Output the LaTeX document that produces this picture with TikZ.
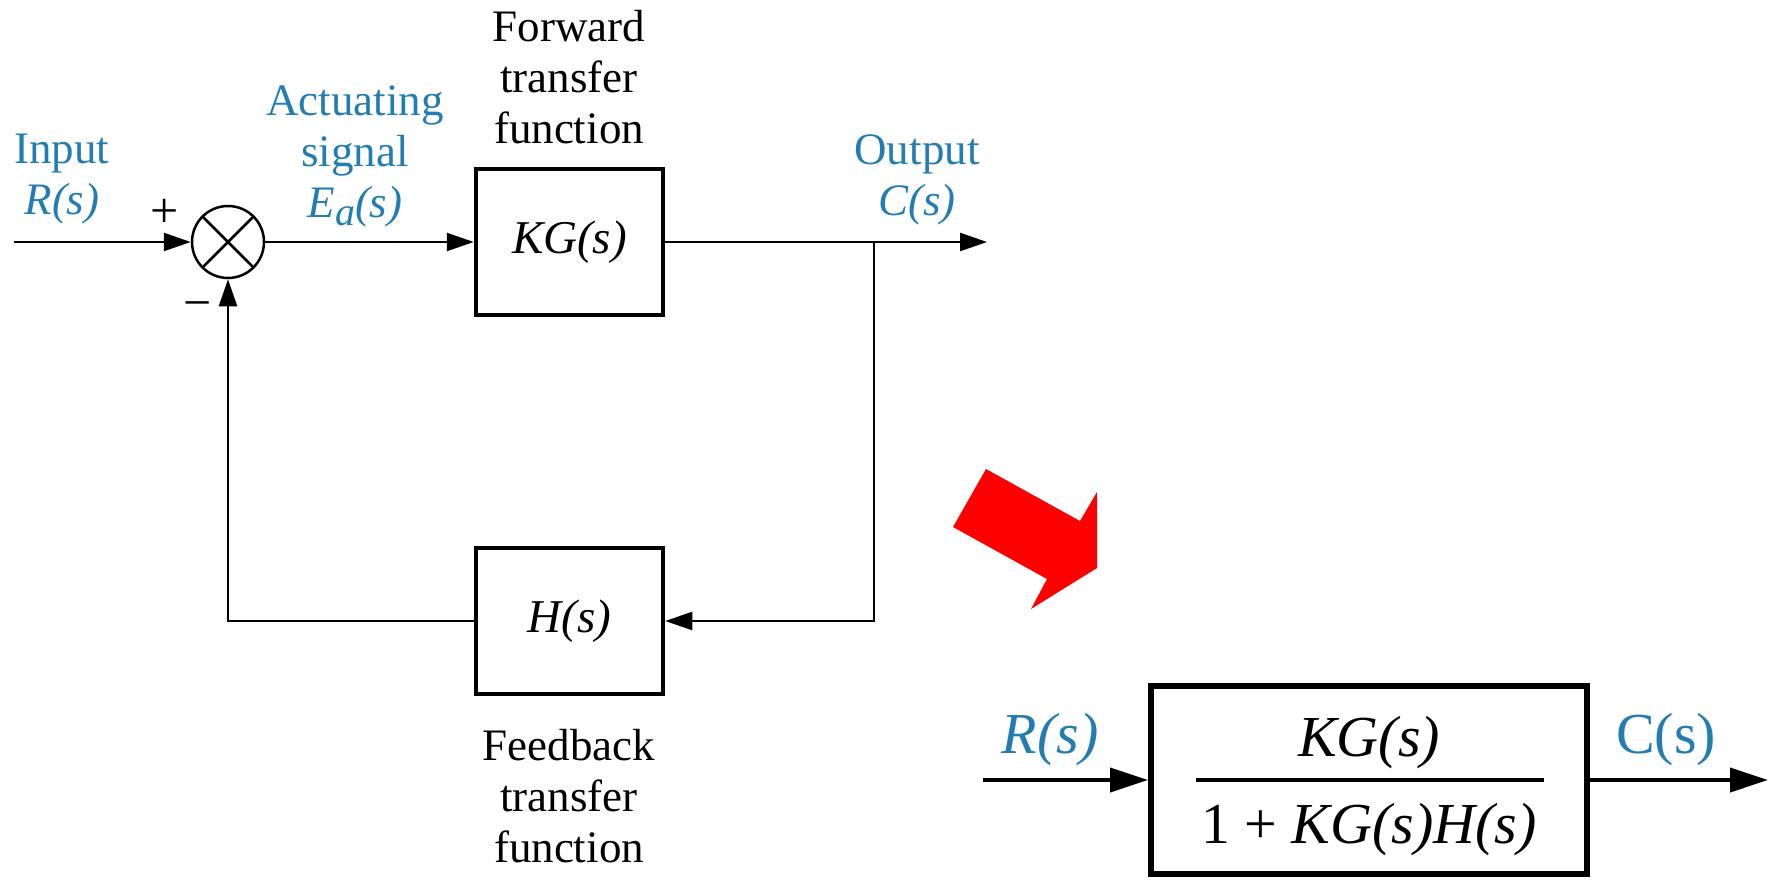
\documentclass[tikz,border=0pt]{standalone}
\usepackage{fontspec}
\setmainfont{Liberation Serif}
\usetikzlibrary{arrows.meta}
\definecolor{lblblue}{RGB}{35,125,178}
\definecolor{arrred}{RGB}{255,0,0}
\begin{document}
\begin{tikzpicture}[x=1pt,y=-1pt,
  conn/.style={line width=2.5pt,-{Triangle[length=27pt,width=18pt]}},
  plainline/.style={line width=2.5pt},
  blockbox/.style={draw,line width=4.5pt,minimum width=187pt,minimum height=146pt,inner sep=0pt,
    font=\fontsize{47}{51}\selectfont\itshape},
  lbl/.style={inner sep=0pt,align=center,font=\fontsize{45}{51}\selectfont},
  signlbl/.style={inner sep=0pt,font=\fontsize{50}{50}\selectfont},
  bluelbl/.style={lbl,text=lblblue},
  sumnode/.style={draw,circle,line width=2.5pt,minimum size=72pt,inner sep=0pt},
  bigconn/.style={line width=4pt,-{Triangle[length=38pt,width=24pt]}},
  bigbox/.style={draw,line width=6pt,minimum width=436pt,minimum height=188pt,inner sep=0pt},
  biglbl/.style={inner sep=0pt,font=\fontsize{58}{64}\selectfont}
]
\useasboundingbox (0,0) rectangle (1775,880);

% ---------- top diagram ----------
\coordinate (inR) at (14,242);
\node[sumnode] (sum) at (228,242) {};
\draw[line width=2.5pt] (sum.north west) -- (sum.south east);
\draw[line width=2.5pt] (sum.north east) -- (sum.south west);
\node[blockbox] (kg) at (569.5,242) {KG(s)};
\node[blockbox] (h) at (569.5,621) {H(s)};
\coordinate (br) at (874,242);
\coordinate (out) at (987,242);

\draw[conn] (inR) -- (sum.west);
\draw[conn] (sum.east) -- (kg.west);
\draw[plainline] (kg.east) -- (br);
\draw[conn] (br) -- (out);
\draw[conn] (br) |- (h.east);
\draw[conn] (h.west) -| (sum.south);

\node[signlbl] (plus) at (165,213) {+};
\node[signlbl] (minus) at (198,311) {−};

\node[bluelbl] (inlbl) at (62,179) {Input\\\textit{R(s)}};
\node[bluelbl] (actlbl) at (355,156) {Actuating\\signal\\\textit{E}\raisebox{-0.4ex}{\fontsize{40}{40}\selectfont\textit{a}}\textit{(s)}};
\node[lbl] (fwdlbl) at (569,77) {Forward\\transfer\\function};
\node[bluelbl] (outlbl) at (917,180) {Output\\\textit{C(s)}};
\node[lbl] (fblbl) at (569,796) {Feedback\\transfer\\function};

% ---------- red arrow ----------
\fill[arrred] (953,527) -- (986,469) -- (1080,521) -- (1097,492) -- (1097,568)
  -- (1031,609) -- (1047,579) -- cycle;

% ---------- bottom diagram ----------
\node[bigbox] (tf) at (1369,780) {};
\node[biglbl] (num) at (1369,743) {\textit{KG(s)}};
\node[biglbl] (den) at (1369,830) {1 + \textit{KG(s)H(s)}};
\draw[line width=4pt] ([xshift=-173pt]tf.center) -- ([xshift=175pt]tf.center);
\coordinate (bin) at (983,780);
\coordinate (bout) at (1768,780);
\draw[bigconn] (bin) -- (tf.west);
\draw[bigconn] (tf.east) -- (bout);
\node[biglbl,text=lblblue] (brs) at (1050,740) {\textit{R(s)}};
\node[biglbl,text=lblblue] (bcs) at (1666,740) {C(s)};
\end{tikzpicture}
\end{document}
